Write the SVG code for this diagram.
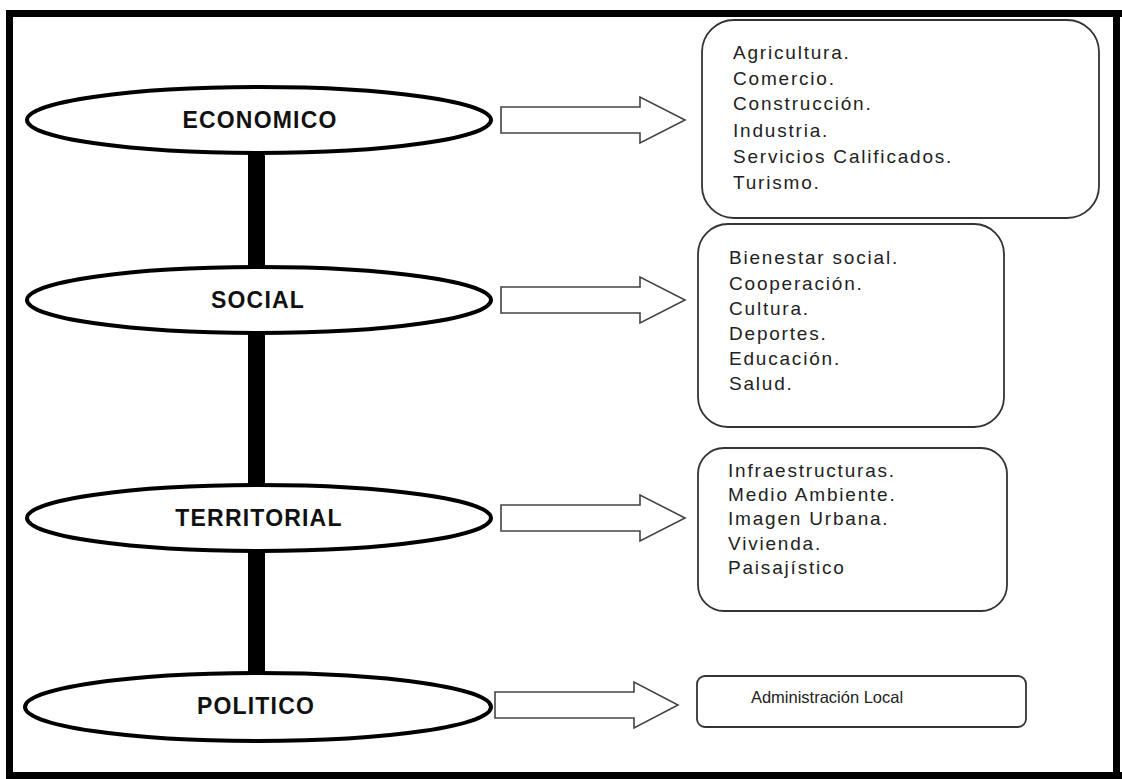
<svg xmlns="http://www.w3.org/2000/svg" width="1122" height="779" viewBox="0 0 1122 779">
<style>
.frame{fill:#000}
.ell{fill:#fff;stroke:#000;stroke-width:4}
.lbl{font-family:"Liberation Sans",Arial,sans-serif;font-size:23px;font-weight:bold;letter-spacing:1.2px;fill:#111;text-anchor:middle}
.arrow{fill:#fff;stroke:#444;stroke-width:1.6;stroke-linejoin:miter}
.box{fill:#fff;stroke:#333;stroke-width:1.8}
.item{font-family:"Liberation Sans",Arial,sans-serif;font-size:19px;letter-spacing:1.8px;fill:#222}
.small{font-family:"Liberation Sans",Arial,sans-serif;font-size:16.5px;fill:#222;text-anchor:middle}
</style>
<rect width="1122" height="779" fill="#fff"/>
<g id="frame">
<rect class="frame" x="6" y="10" width="1116" height="7"/>
<rect class="frame" x="6" y="10" width="7" height="769"/>
<rect class="frame" x="6" y="772" width="1116" height="7"/>
<rect class="frame" x="1113" y="10" width="7" height="769"/>
</g>
<g id="connectors">
<rect x="248" y="140" width="17" height="550" fill="#000"/>
<polygon class="arrow" points="501,107 640,107 640,97 685,120 640,143 640,133 501,133"/>
<polygon class="arrow" points="501,287 640,287 640,277 685,300 640,323 640,313 501,313"/>
<polygon class="arrow" points="501,505 640,505 640,495 685,518 640,541 640,531 501,531"/>
<polygon class="arrow" points="495,692 634,692 634,682 678,705 634,728 634,718 495,718"/>
</g>
<g id="economico">
<ellipse class="ell" cx="259" cy="120" rx="232" ry="33"/>
<text class="lbl" x="260" y="128">ECONOMICO</text>
</g>
<g id="social">
<ellipse class="ell" cx="259" cy="300" rx="232" ry="33"/>
<text class="lbl" x="258" y="308">SOCIAL</text>
</g>
<g id="territorial">
<ellipse class="ell" cx="259" cy="518" rx="232" ry="33"/>
<text class="lbl" x="259" y="526">TERRITORIAL</text>
</g>
<g id="politico">
<ellipse class="ell" cx="258" cy="707" rx="233" ry="34"/>
<text class="lbl" x="256" y="714">POLITICO</text>
</g>
<g id="box-economico">
<rect class="box" x="702" y="20" width="397" height="198" rx="32"/>
<text class="item" x="733" y="59">Agricultura.</text>
<text class="item" x="733" y="85">Comercio.</text>
<text class="item" x="733" y="110">Construcción.</text>
<text class="item" x="733" y="137">Industria.</text>
<text class="item" x="733" y="163">Servicios Calificados.</text>
<text class="item" x="733" y="189">Turismo.</text>
</g>
<g id="box-social">
<rect class="box" x="698" y="224" width="306" height="203" rx="30"/>
<text class="item" x="729" y="264">Bienestar social.</text>
<text class="item" x="729" y="290">Cooperación.</text>
<text class="item" x="729" y="315">Cultura.</text>
<text class="item" x="729" y="340">Deportes.</text>
<text class="item" x="729" y="365">Educación.</text>
<text class="item" x="729" y="390">Salud.</text>
</g>
<g id="box-territorial">
<rect class="box" x="698" y="448" width="309" height="163" rx="26"/>
<text class="item" x="728" y="477">Infraestructuras.</text>
<text class="item" x="728" y="501">Medio Ambiente.</text>
<text class="item" x="728" y="525">Imagen Urbana.</text>
<text class="item" x="728" y="550">Vivienda.</text>
<text class="item" x="728" y="574">Paisajístico</text>
</g>
<g id="box-politico">
<rect class="box" x="697" y="676" width="329" height="51" rx="8"/>
<text class="small" x="827" y="703">Administración Local</text>
</g>
</svg>
